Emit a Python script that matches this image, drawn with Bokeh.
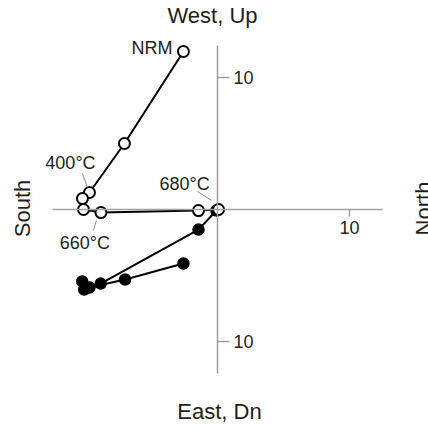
import math
from bokeh.plotting import figure
from bokeh.models import Range1d, LinearAxis, FixedTicker, Label
from bokeh.embed import file_html
from bokeh.resources import INLINE

# ---- data (demagnetization steps, arbitrary units) ----
step_labels = ["NRM", "", "400°C", "", "", "660°C", "", "680°C"]
# vertical projection (open circles): North vs Up
vert_n = [-2.58, -7.05, -9.70, -10.23, -10.15, -8.83, -1.44, 0.08]
vert_up = [11.97, 5.00, 1.29, 0.83, 0.00, -0.23, -0.08, 0.00]
# horizontal projection (solid circles): North vs West
horiz_n = [-2.58, -7.00, -9.70, -10.25, -10.10, -8.85, -1.44, -0.08]
horiz_w = [-4.09, -5.30, -5.91, -5.45, -6.06, -5.61, -1.52, -0.08]

x_ticks = [10]
y_ticks = [10, -10]
y_tick_text = {10: "10", -10: "10"}

# ---- layout ----
FONT = "Liberation Sans"
GRAY = "#a0a0a0"
TXT = "#1e1e1e"
W, H = 428, 428
PX = 13.2             # pixels per data unit
X0, Y0 = 217, 209     # origin position inside canvas (px)

xr = Range1d(-X0 / PX, (W - X0) / PX)
yr = Range1d(-(H - Y0) / PX, Y0 / PX)

p = figure(width=W, height=H, x_range=xr, y_range=yr, output_backend="svg",
           toolbar_location=None, min_border=0, outline_line_color=None)
p.xaxis.visible = False
p.yaxis.visible = False
p.xgrid.visible = False
p.ygrid.visible = False
p.background_fill_color = "white"
p.border_fill_color = "white"

common = dict(axis_line_color=GRAY, axis_line_width=1.5,
              major_tick_line_color=GRAY, major_tick_line_width=1.5,
              major_tick_in=0, minor_tick_in=0, minor_tick_out=0,
              major_label_text_font=FONT, major_label_text_font_size="18px",
              major_label_text_color=TXT)
xax = LinearAxis(fixed_location=0, bounds=(-12.5, 12.5),
                 ticker=FixedTicker(ticks=x_ticks), major_tick_out=7,
                 major_label_standoff=4, **common)
p.add_layout(xax, "below")
yax = LinearAxis(fixed_location=0, bounds=(-12.4, 12.4),
                 ticker=FixedTicker(ticks=y_ticks), major_tick_out=12,
                 major_label_standoff=4, major_label_overrides=y_tick_text,
                 major_label_orientation="horizontal", **common)
p.add_layout(yax, "right")

# horizontal projection (solid)
p.line(horiz_n, horiz_w, line_color="black", line_width=2)
p.scatter(horiz_n, horiz_w, size=11, fill_color="black", line_color="black",
          line_width=1.5)
# vertical projection (open)
p.line(vert_n, vert_up, line_color="black", line_width=2)
p.scatter(vert_n, vert_up, size=11, fill_color="white", line_color="black",
          line_width=2)

# step labels with leader lines (offsets in px, y downwards)
label_style = {
    0: dict(dx=-11, dy=-3, align="right", leader=None),
    2: dict(dx=-19, dy=-29, align="center", leader=((-7, -19), (-2, -5))),
    5: dict(dx=-16, dy=30, align="center", leader=((-4.5, 8), (-7.5, 18))),
    7: dict(dx=-34, dy=-26, align="center", leader=((-21, -18), (-7, -9))),
}
for i, st in label_style.items():
    x, y = vert_n[i], vert_up[i]
    p.add_layout(Label(x=x, y=y, x_offset=st["dx"], y_offset=-st["dy"],
                       text=step_labels[i], text_font=FONT,
                       text_font_size="18px", text_color=TXT,
                       text_align=st["align"], text_baseline="middle"))
    if st["leader"]:
        (a, b), (c, d) = st["leader"]
        p.segment(x0=[x + a / PX], y0=[y - b / PX], x1=[x + c / PX],
                  y1=[y - d / PX], line_color="#909090", line_width=1)


def dpx(px):
    return (px - X0) / PX


def dpy(py):
    return (Y0 - py) / PX


titles = [("West, Up", 212, 15, 0), ("East, Dn", 219, 411, 0),
          ("South", 22, 208, math.pi / 2), ("North", 423, 208, math.pi / 2)]
for t, sx, sy, ang in titles:
    p.add_layout(Label(x=dpx(sx), y=dpy(sy), text=t, text_font=FONT,
                       text_font_size="22px", text_color=TXT, angle=ang,
                       text_align="center", text_baseline="middle"))

open("out.html", "w").write(file_html(p, INLINE))
